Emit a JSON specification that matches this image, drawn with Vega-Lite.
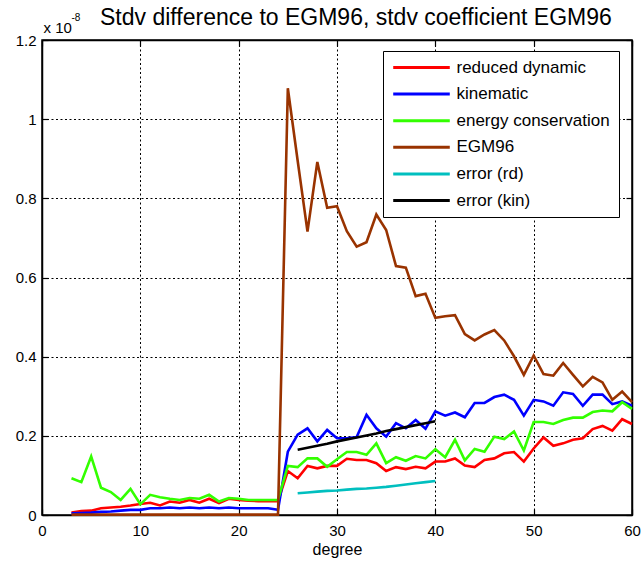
{
  "$schema": "https://vega.github.io/schema/vega-lite/v6.json",
  "width": 590,
  "height": 475,
  "autosize": {"type": "none"},
  "padding": {"left": 42, "top": 40, "right": 9, "bottom": 50},
  "background": "white",
  "config": {"view": {"stroke": "black", "strokeWidth": 1.5}, "font": "Liberation Sans"},
  "title": {"text": "Stdv difference to EGM96, stdv coefficient EGM96", "anchor": "start", "frame": "group", "dx": 58, "fontSize": 23, "fontWeight": "normal", "font": "Liberation Sans", "color": "black", "baseline": "alphabetic", "offset": 0, "dy": 36},
  "data": {"values": [
    {"s":"reduced dynamic","d":3,"v":0.006},{"s":"reduced dynamic","d":4,"v":0.010},{"s":"reduced dynamic","d":5,"v":0.011},{"s":"reduced dynamic","d":6,"v":0.017},{"s":"reduced dynamic","d":7,"v":0.019},{"s":"reduced dynamic","d":8,"v":0.021},{"s":"reduced dynamic","d":9,"v":0.024},{"s":"reduced dynamic","d":10,"v":0.028},{"s":"reduced dynamic","d":11,"v":0.031},{"s":"reduced dynamic","d":12,"v":0.024},{"s":"reduced dynamic","d":13,"v":0.034},{"s":"reduced dynamic","d":14,"v":0.031},{"s":"reduced dynamic","d":15,"v":0.038},{"s":"reduced dynamic","d":16,"v":0.031},{"s":"reduced dynamic","d":17,"v":0.041},{"s":"reduced dynamic","d":18,"v":0.030},{"s":"reduced dynamic","d":19,"v":0.041},{"s":"reduced dynamic","d":20,"v":0.038},{"s":"reduced dynamic","d":21,"v":0.036},{"s":"reduced dynamic","d":22,"v":0.035},{"s":"reduced dynamic","d":23,"v":0.035},{"s":"reduced dynamic","d":24,"v":0.035},
    {"s":"reduced dynamic","d":25,"v":0.111},{"s":"reduced dynamic","d":26,"v":0.093},{"s":"reduced dynamic","d":27,"v":0.124},{"s":"reduced dynamic","d":28,"v":0.118},{"s":"reduced dynamic","d":29,"v":0.124},{"s":"reduced dynamic","d":30,"v":0.124},{"s":"reduced dynamic","d":31,"v":0.142},{"s":"reduced dynamic","d":32,"v":0.139},{"s":"reduced dynamic","d":33,"v":0.139},{"s":"reduced dynamic","d":34,"v":0.131},{"s":"reduced dynamic","d":35,"v":0.111},{"s":"reduced dynamic","d":36,"v":0.121},{"s":"reduced dynamic","d":37,"v":0.116},{"s":"reduced dynamic","d":38,"v":0.122},{"s":"reduced dynamic","d":39,"v":0.118},{"s":"reduced dynamic","d":40,"v":0.135},{"s":"reduced dynamic","d":41,"v":0.135},{"s":"reduced dynamic","d":42,"v":0.143},{"s":"reduced dynamic","d":43,"v":0.125},{"s":"reduced dynamic","d":44,"v":0.121},{"s":"reduced dynamic","d":45,"v":0.139},{"s":"reduced dynamic","d":46,"v":0.143},{"s":"reduced dynamic","d":47,"v":0.156},{"s":"reduced dynamic","d":48,"v":0.159},{"s":"reduced dynamic","d":49,"v":0.135},{"s":"reduced dynamic","d":50,"v":0.168},{"s":"reduced dynamic","d":51,"v":0.196},{"s":"reduced dynamic","d":52,"v":0.175},{"s":"reduced dynamic","d":53,"v":0.181},{"s":"reduced dynamic","d":54,"v":0.190},{"s":"reduced dynamic","d":55,"v":0.194},{"s":"reduced dynamic","d":56,"v":0.217},{"s":"reduced dynamic","d":57,"v":0.225},{"s":"reduced dynamic","d":58,"v":0.213},{"s":"reduced dynamic","d":59,"v":0.242},{"s":"reduced dynamic","d":60,"v":0.230},
    {"s":"kinematic","d":3,"v":0.004},{"s":"kinematic","d":4,"v":0.005},{"s":"kinematic","d":5,"v":0.006},{"s":"kinematic","d":6,"v":0.008},{"s":"kinematic","d":7,"v":0.009},{"s":"kinematic","d":8,"v":0.011},{"s":"kinematic","d":9,"v":0.013},{"s":"kinematic","d":10,"v":0.013},{"s":"kinematic","d":11,"v":0.017},{"s":"kinematic","d":12,"v":0.017},{"s":"kinematic","d":13,"v":0.019},{"s":"kinematic","d":14,"v":0.017},{"s":"kinematic","d":15,"v":0.019},{"s":"kinematic","d":16,"v":0.017},{"s":"kinematic","d":17,"v":0.019},{"s":"kinematic","d":18,"v":0.017},{"s":"kinematic","d":19,"v":0.019},{"s":"kinematic","d":20,"v":0.017},{"s":"kinematic","d":21,"v":0.017},{"s":"kinematic","d":22,"v":0.017},{"s":"kinematic","d":23,"v":0.017},{"s":"kinematic","d":24,"v":0.013},
    {"s":"kinematic","d":25,"v":0.160},{"s":"kinematic","d":26,"v":0.203},{"s":"kinematic","d":27,"v":0.219},{"s":"kinematic","d":28,"v":0.186},{"s":"kinematic","d":29,"v":0.215},{"s":"kinematic","d":30,"v":0.194},{"s":"kinematic","d":31,"v":0.194},{"s":"kinematic","d":32,"v":0.197},{"s":"kinematic","d":33,"v":0.253},{"s":"kinematic","d":34,"v":0.219},{"s":"kinematic","d":35,"v":0.198},{"s":"kinematic","d":36,"v":0.232},{"s":"kinematic","d":37,"v":0.219},{"s":"kinematic","d":38,"v":0.240},{"s":"kinematic","d":39,"v":0.218},{"s":"kinematic","d":40,"v":0.262},{"s":"kinematic","d":41,"v":0.251},{"s":"kinematic","d":42,"v":0.259},{"s":"kinematic","d":43,"v":0.247},{"s":"kinematic","d":44,"v":0.283},{"s":"kinematic","d":45,"v":0.283},{"s":"kinematic","d":46,"v":0.298},{"s":"kinematic","d":47,"v":0.304},{"s":"kinematic","d":48,"v":0.291},{"s":"kinematic","d":49,"v":0.251},{"s":"kinematic","d":50,"v":0.291},{"s":"kinematic","d":51,"v":0.287},{"s":"kinematic","d":52,"v":0.276},{"s":"kinematic","d":53,"v":0.310},{"s":"kinematic","d":54,"v":0.306},{"s":"kinematic","d":55,"v":0.276},{"s":"kinematic","d":56,"v":0.304},{"s":"kinematic","d":57,"v":0.304},{"s":"kinematic","d":58,"v":0.280},{"s":"kinematic","d":59,"v":0.287},{"s":"kinematic","d":60,"v":0.276},
    {"s":"energy conservation","d":3,"v":0.093},{"s":"energy conservation","d":4,"v":0.083},{"s":"energy conservation","d":5,"v":0.148},{"s":"energy conservation","d":6,"v":0.069},{"s":"energy conservation","d":7,"v":0.058},{"s":"energy conservation","d":8,"v":0.038},{"s":"energy conservation","d":9,"v":0.066},{"s":"energy conservation","d":10,"v":0.027},{"s":"energy conservation","d":11,"v":0.051},{"s":"energy conservation","d":12,"v":0.045},{"s":"energy conservation","d":13,"v":0.041},{"s":"energy conservation","d":14,"v":0.038},{"s":"energy conservation","d":15,"v":0.043},{"s":"energy conservation","d":16,"v":0.041},{"s":"energy conservation","d":17,"v":0.051},{"s":"energy conservation","d":18,"v":0.034},{"s":"energy conservation","d":19,"v":0.043},{"s":"energy conservation","d":20,"v":0.041},{"s":"energy conservation","d":21,"v":0.038},{"s":"energy conservation","d":22,"v":0.038},{"s":"energy conservation","d":23,"v":0.038},{"s":"energy conservation","d":24,"v":0.038},
    {"s":"energy conservation","d":25,"v":0.124},{"s":"energy conservation","d":26,"v":0.121},{"s":"energy conservation","d":27,"v":0.143},{"s":"energy conservation","d":28,"v":0.143},{"s":"energy conservation","d":29,"v":0.122},{"s":"energy conservation","d":30,"v":0.141},{"s":"energy conservation","d":31,"v":0.159},{"s":"energy conservation","d":32,"v":0.159},{"s":"energy conservation","d":33,"v":0.152},{"s":"energy conservation","d":34,"v":0.181},{"s":"energy conservation","d":35,"v":0.131},{"s":"energy conservation","d":36,"v":0.146},{"s":"energy conservation","d":37,"v":0.137},{"s":"energy conservation","d":38,"v":0.149},{"s":"energy conservation","d":39,"v":0.143},{"s":"energy conservation","d":40,"v":0.166},{"s":"energy conservation","d":41,"v":0.146},{"s":"energy conservation","d":42,"v":0.190},{"s":"energy conservation","d":43,"v":0.138},{"s":"energy conservation","d":44,"v":0.167},{"s":"energy conservation","d":45,"v":0.160},{"s":"energy conservation","d":46,"v":0.198},{"s":"energy conservation","d":47,"v":0.192},{"s":"energy conservation","d":48,"v":0.211},{"s":"energy conservation","d":49,"v":0.163},{"s":"energy conservation","d":50,"v":0.235},{"s":"energy conservation","d":51,"v":0.235},{"s":"energy conservation","d":52,"v":0.230},{"s":"energy conservation","d":53,"v":0.240},{"s":"energy conservation","d":54,"v":0.246},{"s":"energy conservation","d":55,"v":0.246},{"s":"energy conservation","d":56,"v":0.260},{"s":"energy conservation","d":57,"v":0.264},{"s":"energy conservation","d":58,"v":0.262},{"s":"energy conservation","d":59,"v":0.285},{"s":"energy conservation","d":60,"v":0.268},
    {"s":"EGM96","d":3,"v":0.001},{"s":"EGM96","d":4,"v":0.001},{"s":"EGM96","d":5,"v":0.001},{"s":"EGM96","d":6,"v":0.001},{"s":"EGM96","d":7,"v":0.001},{"s":"EGM96","d":8,"v":0.001},{"s":"EGM96","d":9,"v":0.001},{"s":"EGM96","d":10,"v":0.001},{"s":"EGM96","d":11,"v":0.001},{"s":"EGM96","d":12,"v":0.001},{"s":"EGM96","d":13,"v":0.001},{"s":"EGM96","d":14,"v":0.001},{"s":"EGM96","d":15,"v":0.001},{"s":"EGM96","d":16,"v":0.001},{"s":"EGM96","d":17,"v":0.001},{"s":"EGM96","d":18,"v":0.001},{"s":"EGM96","d":19,"v":0.001},{"s":"EGM96","d":20,"v":0.001},{"s":"EGM96","d":21,"v":0.001},{"s":"EGM96","d":22,"v":0.001},{"s":"EGM96","d":23,"v":0.001},{"s":"EGM96","d":24,"v":0.001},
    {"s":"EGM96","d":25,"v":1.078},{"s":"EGM96","d":26,"v":0.895},{"s":"EGM96","d":27,"v":0.716},{"s":"EGM96","d":28,"v":0.892},{"s":"EGM96","d":29,"v":0.776},{"s":"EGM96","d":30,"v":0.780},{"s":"EGM96","d":31,"v":0.717},{"s":"EGM96","d":32,"v":0.678},{"s":"EGM96","d":33,"v":0.689},{"s":"EGM96","d":34,"v":0.759},{"s":"EGM96","d":35,"v":0.720},{"s":"EGM96","d":36,"v":0.629},{"s":"EGM96","d":37,"v":0.625},{"s":"EGM96","d":38,"v":0.553},{"s":"EGM96","d":39,"v":0.559},{"s":"EGM96","d":40,"v":0.498},{"s":"EGM96","d":41,"v":0.502},{"s":"EGM96","d":42,"v":0.505},{"s":"EGM96","d":43,"v":0.457},{"s":"EGM96","d":44,"v":0.441},{"s":"EGM96","d":45,"v":0.456},{"s":"EGM96","d":46,"v":0.467},{"s":"EGM96","d":47,"v":0.441},{"s":"EGM96","d":48,"v":0.401},{"s":"EGM96","d":49,"v":0.354},{"s":"EGM96","d":50,"v":0.403},{"s":"EGM96","d":51,"v":0.356},{"s":"EGM96","d":52,"v":0.352},{"s":"EGM96","d":53,"v":0.384},{"s":"EGM96","d":54,"v":0.354},{"s":"EGM96","d":55,"v":0.325},{"s":"EGM96","d":56,"v":0.349},{"s":"EGM96","d":57,"v":0.335},{"s":"EGM96","d":58,"v":0.291},{"s":"EGM96","d":59,"v":0.312},{"s":"EGM96","d":60,"v":0.285},
    {"s":"error (rd)","d":26,"v":0.055},{"s":"error (rd)","d":27,"v":0.057},{"s":"error (rd)","d":28,"v":0.059},{"s":"error (rd)","d":29,"v":0.061},{"s":"error (rd)","d":30,"v":0.062},{"s":"error (rd)","d":31,"v":0.064},{"s":"error (rd)","d":32,"v":0.066},{"s":"error (rd)","d":33,"v":0.067},{"s":"error (rd)","d":34,"v":0.069},{"s":"error (rd)","d":35,"v":0.071},{"s":"error (rd)","d":36,"v":0.074},{"s":"error (rd)","d":37,"v":0.077},{"s":"error (rd)","d":38,"v":0.080},{"s":"error (rd)","d":39,"v":0.083},{"s":"error (rd)","d":40,"v":0.086},
    {"s":"error (kin)","d":26,"v":0.165},{"s":"error (kin)","d":27,"v":0.170},{"s":"error (kin)","d":28,"v":0.175},{"s":"error (kin)","d":29,"v":0.180},{"s":"error (kin)","d":30,"v":0.186},{"s":"error (kin)","d":31,"v":0.191},{"s":"error (kin)","d":32,"v":0.196},{"s":"error (kin)","d":33,"v":0.201},{"s":"error (kin)","d":34,"v":0.206},{"s":"error (kin)","d":35,"v":0.212},{"s":"error (kin)","d":36,"v":0.217},{"s":"error (kin)","d":37,"v":0.222},{"s":"error (kin)","d":38,"v":0.227},{"s":"error (kin)","d":39,"v":0.232},{"s":"error (kin)","d":40,"v":0.237}
  ]},
  "layer": [
    {
      "mark": {"type": "line", "strokeWidth": 2.6},
      "encoding": {
        "x": {"field": "d", "type": "quantitative", "scale": {"domain": [0, 60], "nice": false, "zero": false},
          "axis": {"orient": "bottom", "values": [0, 10, 20, 30, 40, 50, 60], "title": "degree", "grid": true, "gridColor": "black", "gridDash": [2, 2.5], "gridWidth": 1, "gridOpacity": 1, "domainColor": "black", "domainWidth": 1.5, "tickColor": "black", "tickSize": -6, "tickWidth": 1.2, "labelFontSize": 15, "labelColor": "black", "labelPadding": 14, "labelFont": "Liberation Sans", "labelFlush": false, "titleFont": "Liberation Sans", "titleFontSize": 16, "titleFontWeight": "normal", "titleColor": "black", "titlePadding": 3}},
        "y": {"field": "v", "type": "quantitative", "scale": {"domain": [0, 1.2], "nice": false},
          "axis": {"orient": "left", "values": [0, 0.2, 0.4, 0.6, 0.8, 1, 1.2], "format": "~g", "grid": true, "gridColor": "black", "gridDash": [2, 2.5], "gridWidth": 1, "gridOpacity": 1, "domainColor": "black", "domainWidth": 1.5, "tickColor": "black", "tickSize": -6, "tickWidth": 1.2, "labelFontSize": 15, "labelColor": "black", "labelPadding": 12, "labelFont": "Liberation Sans", "labelFlush": false, "title": "x 10", "titleAngle": 0, "titleX": 1, "titleY": -8, "titleAlign": "left", "titleBaseline": "alphabetic", "titleFont": "Liberation Sans", "titleFontSize": 15, "titleFontWeight": "normal", "titleColor": "black"}},
        "color": {"field": "s", "type": "nominal",
          "scale": {"domain": ["reduced dynamic", "kinematic", "energy conservation", "EGM96", "error (rd)", "error (kin)"], "range": ["#ff0000", "#0000ff", "#33ff00", "#993300", "#00bfbf", "#000000"]},
          "legend": {"orient": "none", "legendX": 341, "legendY": 11, "title": null, "direction": "vertical", "strokeColor": "black", "fillColor": "white", "padding": 8.5, "symbolType": "stroke", "symbolSize": 3200, "symbolStrokeWidth": 3, "clipHeight": 16, "rowPadding": 9.6, "labelOffset": 5, "labelFontSize": 17, "labelFont": "Liberation Sans", "labelColor": "black", "symbolOffset": 0, "labelLimit": 300}}
      }
    },
    {
      "mark": {"type": "line", "opacity": 0},
      "encoding": {
        "x": {"field": "d", "type": "quantitative", "axis": {"orient": "top", "values": [0, 10, 20, 30, 40, 50, 60], "labels": false, "grid": false, "domainColor": "black", "domainWidth": 1.5, "tickColor": "black", "tickSize": -6, "tickWidth": 1.2, "title": "-8", "titleX": 29, "titleY": -20, "titleAlign": "left", "titleBaseline": "alphabetic", "titleAngle": 0, "titleFont": "Liberation Sans", "titleFontSize": 10, "titleFontWeight": "normal", "titleColor": "black"}},
        "y": {"field": "v", "type": "quantitative", "axis": {"orient": "right", "values": [0, 0.2, 0.4, 0.6, 0.8, 1, 1.2], "labels": false, "grid": false, "domainColor": "black", "domainWidth": 1.5, "tickColor": "black", "tickSize": -6, "tickWidth": 1.2, "title": null}},
        "detail": {"field": "s"}
      }
    }
  ],
  "resolve": {"axis": {"x": "independent", "y": "independent"}}
}
